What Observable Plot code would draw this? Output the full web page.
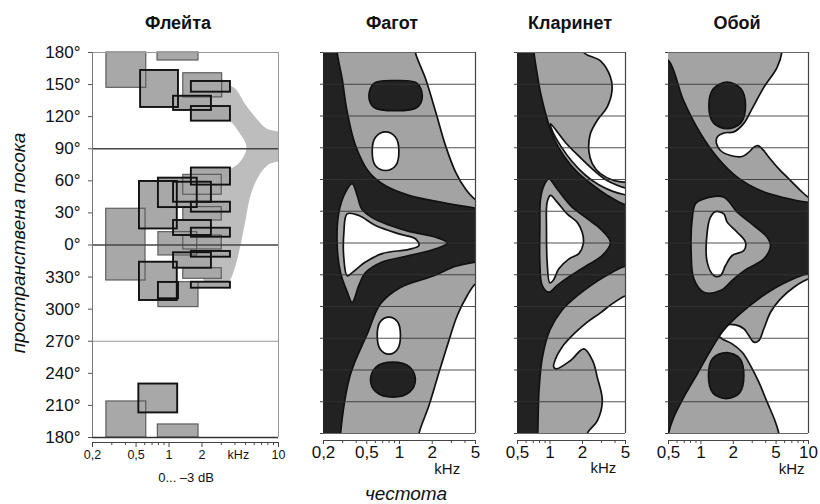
<!DOCTYPE html>
<html><head><meta charset="utf-8">
<script src="https://cdn.jsdelivr.net/npm/d3@7"></script>
<script src="https://cdn.jsdelivr.net/npm/@observablehq/plot@0.6"></script>
<style>
body{margin:0;background:#fff;}
#wrap{position:relative;width:820px;height:504px;overflow:hidden;background:#fff;font-family:"Liberation Sans",Arial,Helvetica,sans-serif;color:#111;}
.lbl{position:absolute;white-space:nowrap;transform:translate(-50%,-50%);line-height:1;}
.panel{position:absolute;top:0;}
</style></head><body><div id="wrap"></div>
<script>
// ---------- shared tick data ----------
const angleTicks = [180,150,120,90,60,30,0,-30,-60,-90,-120,-150,-180];
const angleTickLabels = ["180°","150°","120°","90°","60°","30°","0°","330°","300°","270°","240°","210°","180°"];
const gridAngles = [150,120,90,60,30,0,-30,-60,-90,-120,-150];

const titles = ["Флейта","Фагот","Кларинет","Обой"];
const yTitle = "пространствена посока";
const xTitle = "честота";
const fluteNote = "0... –3 dB";

// ---------- Flute (Флейта) ----------
const fluteTicks = [0.2,0.5,1,2,10];
const fluteTickLabels = ["0,2","0,5","1","2","10"];
const fluteMinor = [0.3,0.4,0.6,0.7,0.8,0.9,3,4,5,6,7,8,9];
// [f1 kHz, f2 kHz, angle1, angle2]
const fluteBandsLight = [
  [0.268,0.62,147,180],[0.785,1.86,172.5,180],[1.35,3.06,138,160.6],
  [1.35,3.03,47,65.6],[1.35,3.03,22.9,35.4],[0.267,0.61,-33.2,33.9],
  [0.8,1.81,-9.8,12],[1.35,3.03,-4.2,8.9],[1.35,3.03,-31.6,-21.7],
  [0.8,1.86,-58.1,-34.8],[0.268,0.62,-180,-146.3],[0.79,1.86,-180,-167.8]
];
const fluteBandsBold = [
  [0.55,1.22,128.6,163.2],[1.6,3.64,142.9,152.9],[1.1,2.44,125.8,139.1],[1.6,3.64,115.8,129.5],
  [1.6,3.64,56,72],[0.537,1.19,15,59.4],[0.8,1.81,35,62.5],[1.1,2.44,40,58.7],
  [1.6,3.64,30.7,40],[1.1,2.44,8.9,22.9],[1.6,3.64,7.3,15.7],[1.6,3.64,-11.4,-6],
  [1.1,2.44,-21.7,-7.3],[0.537,1.19,-51.9,-16.1],[0.8,1.22,-50.3,-35],[1.6,3.64,-40.4,-34.8],
  [0.53,1.2,-157,-130]
];
const fluteFan = [
  [3.0,155],[3.5,150],[4.05,146],[4.99,131.4],[6.29,118.3],[7.76,108.9],[11,103.3],[11,80.9],
  [8.1,75.3],[6.56,64.1],[5.55,46.3],[4.99,23],[4.49,-0.5],[4.05,-19.2],[3.6,-33],[3.2,-38],
  [2.2,-38],[2.2,67],[3.28,69.7],[4.31,76.2],[5.10,91.2],[4.31,106.1],[3.49,116.4],[2.2,118],[2.2,150]
];

// ---------- Bassoon (Фагот) ---------- [kHz, angle]
const bassoonTicks = [0.2,0.5,1,2,5];
const bassoonTickLabels = ["0,2","0,5","1","2","5"];
const bassoonMinor = [0.3,0.4,0.6,0.7,0.8,0.9,3,4];
const bassoonGray = [[0.18,190],[1.38,190],[1.40,180],[1.74,155],[2.15,124],[2.65,92],[3.28,67],[4.05,51],[5.0,41],[6,38],[6,-36],[5.0,-38.6],[4.2,-49.6],[3.4,-68.5],[2.75,-97],[2.22,-128],[1.86,-154],[1.51,-180],[1.48,-190],[0.18,-190]];
const bassoonBlack = [[0.18,190],[0.265,190],[0.267,180],[0.297,155],[0.330,124],[0.394,92],[0.523,67],[0.744,54],[1.22,45],[2.0,40],[3.28,36],[5.0,33],[6,32],[6,-17],[5.0,-18],[3.28,-22],[2.07,-31],[1.02,-42],[0.669,-57.5],[0.505,-86],[0.354,-124],[0.287,-180],[0.285,-190],[0.18,-190]];
const bassoonHalo = [[0.367,56],[0.408,45],[0.45,32],[0.56,24],[0.80,17],[1.22,11],[2.15,5.5],[2.75,0],[2.15,-5.5],[1.22,-12],[0.693,-18],[0.487,-28],[0.423,-40],[0.367,-56],[0.330,-46],[0.287,-28],[0.267,-2],[0.277,29],[0.319,48]];
const bassoonHole = [[0.330,27.5],[0.423,26],[0.602,16.5],[0.987,8.6],[1.40,4],[1.51,-2.4],[1.22,-6],[0.693,-10],[0.487,-18],[0.367,-28],[0.330,-31],[0.308,-15],[0.308,10]];
const bassoonDarkUpper = [[0.523,139],[0.585,151],[0.92,153.5],[1.445,151],[1.62,139],[1.445,128],[0.92,125],[0.585,128]];
const bassoonLightUpper = [[0.561,87],[0.602,100],[0.744,105],[0.92,100],[0.987,87],[0.92,73],[0.744,68.5],[0.602,73]];
const bassoonLightLower = [[0.624,-87],[0.665,-74.5],[0.799,-70],[0.959,-74.5],[1.02,-87],[0.959,-100.4],[0.799,-105],[0.665,-100.4]];
const bassoonDarkLower = [[0.541,-129],[0.611,-117],[0.869,-112.6],[1.237,-117],[1.40,-129],[1.237,-141],[0.869,-145.7],[0.611,-141]];

// ---------- Clarinet (Кларинет) ----------
const clarinetTicks = [0.5,1,2,5];
const clarinetTickLabels = ["0,5","1","2","5"];
const clarinetMinor = [0.6,0.7,0.8,0.9,3,4];
const clarinetGray = [[0.4,190],[2.0,190],[2.06,180],[2.93,172],[3.62,157],[3.75,144],[3.36,128],[2.74,116],[2.36,103],[2.29,87],[2.46,75],[2.93,65.5],[3.9,59],[5,57.4],[6,57],[6,-50],[5,-50],[3.7,-58],[2.93,-66],[2.2,-75],[1.7,-85],[1.3,-98],[1.12,-110],[1.08,-117],[1.14,-119],[1.55,-111],[2.06,-100],[2.5,-112],[2.74,-127],[3.05,-149],[2.74,-168],[2.21,-180],[2.15,-190],[0.4,-190]];
const clarinetSliver = [[1.01,112.6],[1.39,95],[1.85,82],[2.46,70],[3.26,60],[4.19,54.5],[5,52],[6,51.5],[6,45],[5,45.5],[3.76,49],[2.83,55],[2.13,64],[1.60,77],[1.25,92],[1.05,106]];
const clarinetBlack = [[0.4,190],[0.70,190],[0.71,180],[0.76,160],[0.82,141],[0.975,112],[1.12,96],[1.35,82],[1.75,68],[2.4,56],[3.4,45],[5,36],[6,35.5],[6,-23],[5,-22],[3.3,-31],[2.4,-40],[1.78,-50],[1.3,-63],[1.0,-82],[0.85,-108],[0.79,-140],[0.77,-180],[0.76,-190],[0.4,-190]];
const clarinetHalo = [[0.975,60.6],[1.165,51],[1.55,35.4],[2.21,23],[2.93,13.4],[3.63,0.7],[3.04,-12],[2.21,-21],[1.55,-31],[1.165,-40],[0.975,-46.5],[0.846,-40],[0.805,-18],[0.805,13.4],[0.817,41.7],[0.877,54]];
const clarinetHole = [[1.01,45],[1.165,38.6],[1.44,27.5],[1.78,19.7],[1.99,10],[2.03,-1],[1.85,-10],[1.50,-15],[1.207,-24.4],[1.07,-35.5],[0.996,-37.7],[0.941,-18],[0.928,13.4],[0.941,38.6]];

// ---------- Oboe (Обой) ----------
const oboeTicks = [0.5,1,2,5,10];
const oboeTickLabels = ["0,5","1","2","5","10"];
const oboeMinor = [0.6,0.7,0.8,0.9,3,4,6,7,8,9];
const oboeGray = [[0.4,190],[5.6,190],[5.69,182],[5.11,166],[3.845,147],[2.995,127],[2.506,113],[2.024,105],[1.634,104],[1.417,100],[1.396,94],[1.521,87.4],[1.884,82.7],[2.419,81.7],[2.789,85.8],[3.104,90.5],[3.382,92],[3.71,89],[4.28,81],[5.30,70],[6.81,59],[8.43,49.6],[10,43.3],[12,42],[12,-35],[10,-34],[7.31,-41.8],[5.49,-52.8],[4.436,-65.4],[3.845,-81],[3.455,-92.2],[3.104,-93.7],[2.789,-87.4],[2.506,-81],[2.097,-77.4],[1.693,-77.4],[1.468,-80.5],[1.417,-85.9],[1.577,-90.6],[1.953,-95.3],[2.419,-103.2],[2.891,-115.8],[3.455,-131.5],[4.13,-150.4],[4.936,-169.3],[5.30,-180],[5.4,-190],[0.4,-190]];
const oboeBlack = [[0.4,176],[0.5,172.4],[0.69,134.6],[0.992,103.5],[1.424,80.8],[2.19,62],[3.58,49.6],[5.84,43],[10,38.4],[12,38],[12,-29],[10,-28.8],[5.84,-38.3],[3.58,-51.5],[2.334,-66.6],[1.62,-82.7],[1.228,-101.6],[0.93,-123.3],[0.69,-146],[0.557,-165],[0.5,-180],[0.49,-190],[0.4,-190]];
const oboeHalo = [[1.065,41.7],[1.634,43.3],[2.174,29.1],[3.104,16.5],[4.13,5.5],[4.436,-2.4],[3.845,-15],[2.692,-24.4],[2.024,-33.9],[1.521,-44.9],[1.065,-46.5],[0.86,-33.9],[0.812,-8.7],[0.83,22.8],[0.891,37]];
const oboeHole = [[1.367,29.7],[1.634,27.5],[1.755,19.7],[2.174,10.2],[2.597,0.7],[2.506,-7.1],[1.953,-11.8],[1.693,-21.3],[1.521,-30.7],[1.319,-30.7],[1.144,-18.1],[1.144,10.2],[1.228,24.4]];
const oboeDarkUpper = [[1.186,130],[1.31,146],[1.755,152],[2.35,146],[2.597,130],[2.35,113.5],[1.755,108],[1.31,113.5]];
const oboeDarkLower = [[1.177,-125],[1.29,-109],[1.72,-103.5],[2.29,-109],[2.506,-125],[2.29,-141.6],[1.72,-147],[1.29,-141.6]];

// ---------- styling ----------
const FONT = '"Liberation Sans", Arial, Helvetica, sans-serif';
const GRAY = "#a3a3a3", DARK = "#222", WHITE = "#fff";
const wrap = document.getElementById("wrap");
const angleLabel = new Map(angleTicks.map((t,i)=>[t, angleTickLabels[i]]));

function label(text, x, y, css) {
  const d = document.createElement("div");
  d.className = "lbl"; d.textContent = text;
  d.style.left = x + "px"; d.style.top = y + "px";
  Object.assign(d.style, css);
  wrap.appendChild(d);
}
function put(svg, left) {
  svg.classList.add("panel");
  svg.style.left = left + "px";
  wrap.appendChild(svg);
}
const X = d => d[0], Y = d => d[1];
function shape(pts, fill) {
  return Plot.line(pts, {x: X, y: Y, curve: "catmull-rom-closed", fill, stroke: "#111", strokeWidth: 1.7, clip: true});
}
function tickText(ticks, labels, dy, fontSize) {
  const fmt = new Map(ticks.map((t,i)=>[t, labels[i]]));
  return Plot.text(ticks, {x: d => d, text: d => fmt.get(d), frameAnchor: "bottom", dy, fontSize});
}

// ---------- flute plot ----------
const allBands = fluteBandsLight.concat(fluteBandsBold);
const bandOpts = {x1: d=>d[0], x2: d=>d[1], y1: d=>d[2], y2: d=>d[3]};
const flute = Plot.plot({
  width: 290, height: 490, marginLeft: 92, marginRight: 12, marginTop: 52, marginBottom: 53,
  x: {type: "log", domain: [0.2, 10], label: null},
  y: {domain: [-180, 180], label: null},
  style: {fontFamily: FONT, background: "transparent", overflow: "visible", color: "#111"},
  marks: [
    Plot.line(fluteFan, {x: X, y: Y, curve: "catmull-rom-closed", fill: "#bdbdbd", clip: true}),
    Plot.rect(allBands, {...bandOpts, fill: "#a8a8a8"}),
    Plot.rect(fluteBandsLight, {...bandOpts, fill: "none", stroke: "#555", strokeWidth: 1.1}),
    Plot.rect(fluteBandsBold, {...bandOpts, fill: "none", stroke: "#111", strokeWidth: 1.9}),
    Plot.ruleY([90, 0], {stroke: "#444", strokeWidth: 1.3}),
    Plot.ruleY([-90], {stroke: "#999", strokeWidth: 1}),
    Plot.ruleY([180], {stroke: "#999", strokeWidth: 1}),
    Plot.ruleY([-180], {stroke: "#333", strokeWidth: 1.5}),
    Plot.ruleX([0.2], {stroke: "#777", strokeWidth: 1}),
    Plot.ruleX([10], {stroke: "#999", strokeWidth: 1}),
    Plot.axisY(angleTicks, {tickSize: 4, tickPadding: 8, fontSize: 17, tickFormat: d => angleLabel.get(d), stroke: "#555"}),
    Plot.ruleY([-180], {dy: 5, stroke: "#444", strokeWidth: 1}),
    Plot.axisX(fluteTicks, {tickSize: 5, dy: 5, tickFormat: () => "", stroke: "#444"}),
    Plot.axisX(fluteMinor, {tickSize: 3, dy: 5, tickFormat: () => "", stroke: "#444"}),
    tickText(fluteTicks, fluteTickLabels, 21, 12.5),
    Plot.text([{f: 4.3, t: "kHz"}], {x: "f", text: "t", frameAnchor: "bottom", dy: 21, fontSize: 12.5})
  ]
});
put(flute, 0);

// ---------- contour panels ----------
function contourPanel({left, width, ml, mr, domain, ticks, tickLabels, minor, khz, khzDy, layers}) {
  const svg = Plot.plot({
    width, height: 490, marginLeft: ml, marginRight: mr, marginTop: 52, marginBottom: 57,
    x: {type: "log", domain, label: null},
    y: {domain: [-180, 180], label: null},
    style: {fontFamily: FONT, background: "transparent", overflow: "visible", color: "#111"},
    marks: [
      ...layers.map(([pts, fill]) => shape(pts, fill)),
      Plot.ruleY(gridAngles, {stroke: "#333", strokeWidth: 1, strokeOpacity: 0.85}),
      Plot.ruleY([180, -180], {stroke: "#666", strokeWidth: 1}),
      Plot.ruleX([domain[1]], {stroke: "#444", strokeWidth: 1.2}),
      Plot.axisY(angleTicks, {tickSize: 3, tickFormat: () => "", stroke: "#444"}),
      Plot.ruleY([-180], {dy: 7, stroke: "#444", strokeWidth: 1}),
      Plot.axisX(ticks, {tickSize: 4, dy: 7, tickFormat: () => "", stroke: "#444"}),
      Plot.axisX(minor, {tickSize: 3, dy: 7, tickFormat: () => "", stroke: "#444"}),
      tickText(ticks, tickLabels, 24, 17),
      Plot.text([{f: khz, t: "kHz"}], {x: "f", text: "t", frameAnchor: "bottom", dy: khzDy, fontSize: 15})
    ]
  });
  put(svg, left);
}

contourPanel({left: 300, width: 190, ml: 23, mr: 15, domain: [0.2, 5],
  ticks: bassoonTicks, tickLabels: bassoonTickLabels, minor: bassoonMinor, khz: 2.75, khzDy: 40,
  layers: [[bassoonGray, GRAY],[bassoonBlack, DARK],[bassoonHalo, GRAY],[bassoonHole, WHITE],
           [bassoonDarkUpper, DARK],[bassoonLightUpper, WHITE],[bassoonLightLower, WHITE],[bassoonDarkLower, DARK]]});

contourPanel({left: 495, width: 145, ml: 22, mr: 15, domain: [0.5, 5],
  ticks: clarinetTicks, tickLabels: clarinetTickLabels, minor: clarinetMinor, khz: 3.12, khzDy: 39,
  layers: [[clarinetGray, GRAY],[clarinetSliver, WHITE],[clarinetBlack, DARK],[clarinetHalo, GRAY],[clarinetHole, WHITE]]});

contourPanel({left: 645, width: 175, ml: 23, mr: 12, domain: [0.5, 10],
  ticks: oboeTicks, tickLabels: oboeTickLabels, minor: oboeMinor, khz: 6.97, khzDy: 40,
  layers: [[oboeGray, GRAY],[oboeBlack, DARK],[oboeHalo, GRAY],[oboeHole, WHITE],
           [oboeDarkUpper, DARK],[oboeDarkLower, DARK]]});

// ---------- titles & labels ----------
const titleX = [178, 392, 570, 737];
titles.forEach((t,i) => label(t, titleX[i], 23, {fontWeight: "bold", fontSize: "18px"}));
label(yTitle, 18, 243, {fontStyle: "italic", fontSize: "19px", transform: "translate(-50%,-50%) rotate(-90deg)"});
label(xTitle, 406, 493, {fontStyle: "italic", fontSize: "19px"});
label(fluteNote, 186, 477, {fontSize: "13px"});
</script></body></html>
